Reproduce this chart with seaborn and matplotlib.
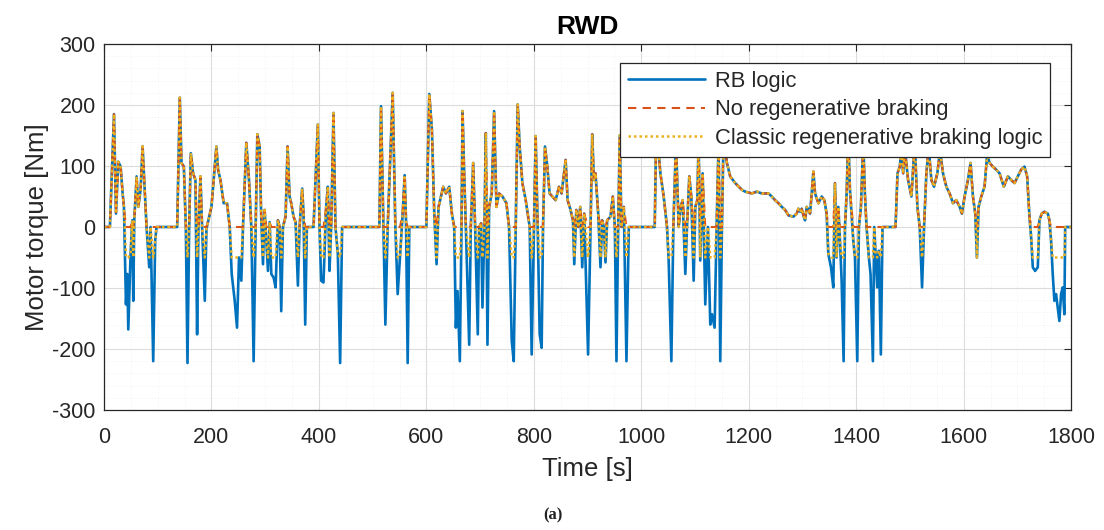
import numpy as np
import pandas as pd
import matplotlib
matplotlib.use("Agg")
import matplotlib.pyplot as plt
from matplotlib.ticker import MultipleLocator
import seaborn as sns

# ---------------- data ----------------
time_s = [0, 11, 18.6, 22.3, 26.6, 30.9, 34.7, 37.1, 40.9, 43.3, 45.2, 49.5, 52.6, 54.5, 56.3, 60.7, 63.8, 68.1,
          71.8, 76.1, 79.2, 84.2, 86.7, 91.6, 95.3, 97.8, 136.2, 141.1, 144.2, 148.6, 152.3, 155.4, 158.5, 161.6,
          165.9, 170.2, 173.3, 175.8, 179.5, 182.6, 187.6, 190.7, 200, 206.1, 209.2, 212.3, 216.7, 222.8, 229,
          234, 237.7, 243.3, 247.6, 251.3, 255.6, 258.7, 264.9, 269.9, 274.2, 278.5, 282.3, 285.4, 289.7, 292.5,
          295.9, 299, 302.1, 305.2, 308.3, 311.4, 315.7, 319.4, 323.7, 326.8, 329.9, 333, 338, 341.7, 345.4,
          348.5, 352.8, 356.6, 360.9, 364, 368.9, 371.4, 374.5, 377.6, 390, 398, 401.1, 404.2, 408.5, 413.5,
          416.6, 419.7, 422.8, 427.1, 430.8, 435.2, 439.5, 443.2, 512.5, 515.6, 520, 523.7, 528, 537.3, 542.3,
          546.6, 550.9, 555.9, 559.6, 562.1, 565.2, 568.3, 600, 605.4, 610.3, 614.7, 619, 622.7, 631.4, 636.3,
          642.5, 647.5, 651.8, 654.9, 658, 662.3, 665.4, 667.3, 670.4, 673.5, 679.7, 682.7, 687.1, 690.8, 695.7,
          698.2, 701.9, 704.4, 708.1, 710.6, 713.7, 716.8, 721.7, 726.1, 730.4, 735.4, 741.6, 749, 753.9, 758.9,
          762.6, 766.3, 770, 773.7, 778.7, 784.9, 792.3, 796, 800.4, 803.4, 807.2, 810.9, 814.6, 817.1, 820.8,
          825.1, 829.4, 834.4, 840.6, 846.8, 851.7, 859.2, 862.9, 868.4, 872.8, 875.3, 879, 882.7, 886.4, 890.1,
          893.8, 901, 905.6, 908.7, 911.8, 914.8, 919.8, 924.1, 927.2, 930.3, 933.4, 936.5, 942.7, 947, 950.8,
          953.8, 957, 960, 963.1, 967.5, 972.4, 976.8, 1025, 1028, 1035.6, 1041.7, 1047.9, 1051, 1056, 1059.7,
          1064.6, 1069.6, 1073.3, 1077, 1082, 1085.1, 1089.4, 1093.1, 1097.5, 1100.6, 1104.3, 1106.7, 1109.8,
          1114.2, 1119.1, 1124.1, 1128.4, 1131.5, 1136.5, 1140.2, 1143.9, 1147, 1150.1, 1153.2, 1159.4, 1165.5,
          1174.8, 1187.2, 1193.4, 1205.8, 1215, 1224.3, 1236.7, 1242.9, 1249.1, 1255.3, 1261.5, 1267.7, 1273.9,
          1283.1, 1289.3, 1292.4, 1295.5, 1298.6, 1301.7, 1304.8, 1307.9, 1311, 1314.1, 1317.2, 1320.3, 1323.4,
          1329.6, 1335.8, 1340.7, 1345, 1348.1, 1353.1, 1357.4, 1360.5, 1363.6, 1366.7, 1369.8, 1372.9, 1376.6,
          1379.1, 1382.2, 1385.3, 1388.4, 1394.6, 1397.7, 1402, 1405.1, 1408.8, 1413.1, 1416.2, 1419.3, 1423.6,
          1426.7, 1431.1, 1433.6, 1436, 1439.1, 1442.2, 1445.9, 1449, 1473.2, 1476.9, 1481.2, 1484.3, 1487.4,
          1490.4, 1496.6, 1502.8, 1509, 1513.9, 1518.2, 1522.6, 1526.3, 1530.6, 1535, 1539.9, 1544.9, 1551, 1556,
          1561.6, 1567.8, 1573.9, 1580.1, 1586.3, 1592.5, 1596.8, 1601.8, 1608, 1612.9, 1617.3, 1621.6, 1624.7,
          1627.8, 1632.8, 1638.9, 1643.9, 1648.2, 1654.4, 1660.6, 1666.8, 1674.8, 1682.3, 1688.5, 1694.7, 1700.8,
          1707, 1713.2, 1718.2, 1722.5, 1725.6, 1728.7, 1733, 1738, 1741.1, 1745.4, 1750.4, 1756.6, 1759.6, 1762.7,
          1765.8, 1768.9, 1772, 1775.1, 1778.2, 1781.3, 1784.4, 1787.5, 1789, 1800]

torque_rb = [0, 0, 185, 22, 107, 99, 55, 33, -127, -77, -168, -44, 11, -121, 11, 83, 33, 61,
             132, 55, 0, -66, 0, -220, -22, 0, 0, 212, 105, 99, 0, -223, 0, 121,
             88, 77, -176, 0, 83, 0, -121, -3, 33, 99, 132, 94, 77, 39, 39,
             0, -77, -121, -165, -50, -88, 0, 138, 77, 0, -220, 0, 152, 132, 20,
             -61, 28, -22, -72, 8, -77, -83, -99, 11, 0, -138, 0, 17, 132, 50,
             39, 17, 8, -96, 0, 63, 22, -160, 0, 0, 168, 0, -88, -91, 33,
             66, -72, 0, 187, 0, -44, -223, 0, 0, 198, 0, -160, 0, 220, 0,
             -110, -50, 22, 85, 11, -223, 0, 0, 218, 160, 22, -61, 33, 66, 55,
             66, 22, 0, -165, -105, -220, 0, 190, 88, 0, -193, 0, 105, 0, -176,
             0, 6, -132, 0, 154, -193, 33, 55, 190, 33, 55, 50, 39, 0, -187,
             -220, 0, 201, 132, 72, 44, 0, -209, 0, 149, 0, -176, -198, 0, 132,
             99, 55, 50, 44, 66, 55, 110, 44, 28, 11, -61, 28, 0, 33, -66,
             22, -209, 0, 152, 77, 88, 22, -66, 11, 0, -58, 11, 17, 50, 0,
             -220, 0, 150, 0, 33, -220, 0, 0, 165, 88, 50, 0, -55, -220, 0,
             140, 0, 33, 44, -77, 0, 83, 50, -88, 33, 44, 140, -55,
             88, -127, 0, -160, -143, -165, 0, 140, -220, 0, 150, 105, 83,
             72, 61, 58, 55, 58, 55, 55, 50, 44, 39, 33, 28, 19,
             17, 22, 30, 25, 30, 19, 11, 33, 28, 22, 55, 91, 55,
             39, 50, 44, 22, -44, -66, -99, 72, -50, 33, -22, -88, -220,
             0, 55, 150, 61, -22, -50, -220, 0, 33, 140, 55, 0, -50,
             -77, -220, 0, -44, -99, -39, -209, 0, 0, 88, 99, 130, 88,
             130, 77, 50, 140, 33, 0, -99, 0, 88, 130, 77, 66, 88, 125,
             88, 66, 55, 39, 44, 33, 22, 50, 77, 105, 50, 22, -50,
             33, 50, 66, 120, 105, 99, 94, 88, 66, 83, 77, 72, 83,
             94, 99, 83, 17, -17, -66, -72, -66, 11, 22, 25, 22, 11, -22,
             -77, -121, -110, -132, -154, -110, -99, -143, 0, 0]

classic_min_torque = -50   # lower limit of the classic regenerative logic
no_regen_min_torque = 0    # no regenerative braking: no negative torque

series_labels = ["RB logic", "No regenerative braking", "Classic regenerative braking logic"]
x_ticks = [0, 200, 400, 600, 800, 1000, 1200, 1400, 1600, 1800]
y_ticks = [-300, -200, -100, 0, 100, 200, 300]

t = np.array(time_s, dtype=float)
rb = np.array(torque_rb, dtype=float)
no_regen = np.maximum(rb, no_regen_min_torque)
classic = np.maximum(rb, classic_min_torque)

df = pd.DataFrame({"time": t, "rb": rb, "noregen": no_regen, "classic": classic})

# ---------------- figure ----------------
sns.set_theme(style="white")
plt.rcParams["font.family"] = ["Liberation Sans", "DejaVu Sans"]
plt.rcParams["axes.unicode_minus"] = False

fig = plt.figure(figsize=(11.04, 5.30), dpi=100)
ax = fig.add_axes([0.0942, 0.2264, 0.876, 0.6906])

sns.lineplot(data=df, x="time", y="rb", ax=ax, color="#0072BD", linewidth=1.9,
             label=series_labels[0], estimator=None, sort=False)
sns.lineplot(data=df, x="time", y="noregen", ax=ax, color="#D95319", linewidth=1.5,
             linestyle=(0, (4, 3)), label=series_labels[1], estimator=None, sort=False)
sns.lineplot(data=df, x="time", y="classic", ax=ax, color="#EDB120", linewidth=1.8,
             linestyle=(0, (1, 1.2)), label=series_labels[2], estimator=None, sort=False)

ax.set_xlim(0, 1800)
ax.set_ylim(-300, 300)
ax.set_xticks(x_ticks)
ax.set_yticks(y_ticks)
ax.xaxis.set_minor_locator(MultipleLocator(50))
ax.yaxis.set_minor_locator(MultipleLocator(20))
ax.grid(True, which="major", color="#dcdcdc", linewidth=0.8)
ax.grid(True, which="minor", color="#efefef", linewidth=0.6, linestyle=(0, (1, 2)))
ax.set_axisbelow(True)

ax.tick_params(axis="both", which="major", direction="in", length=5, width=0.8,
               top=True, right=True, labelsize=15.5, colors="#262626")
ax.tick_params(axis="x", which="major", pad=12)
ax.tick_params(axis="y", which="major", pad=6)
ax.tick_params(axis="both", which="minor", length=0)
for sp in ax.spines.values():
    sp.set_color("#262626")
    sp.set_linewidth(0.9)

ax.set_xlabel("Time [s]", fontsize=18.5, color="#262626", labelpad=7)
ax.set_ylabel("Motor torque [Nm]", fontsize=18.5, color="#262626", labelpad=2)
ax.set_title("RWD", fontsize=19, fontweight="bold", color="#000000", pad=7)

leg = ax.legend(loc="upper right", bbox_to_anchor=(0.978, 0.948), borderaxespad=0,
                fontsize=15.8, handlelength=3.5, handletextpad=0.45, labelspacing=0.35,
                frameon=True, fancybox=False, framealpha=1, edgecolor="#262626",
                borderpad=0.35)
leg.get_frame().set_linewidth(0.9)

fig.text(0.501, 0.028, "(a)", fontsize=12, fontweight="bold",
         family=["Liberation Serif", "DejaVu Serif"], ha="center", va="center", color="#222222")

fig.savefig("out.png", dpi=100, facecolor="white")
